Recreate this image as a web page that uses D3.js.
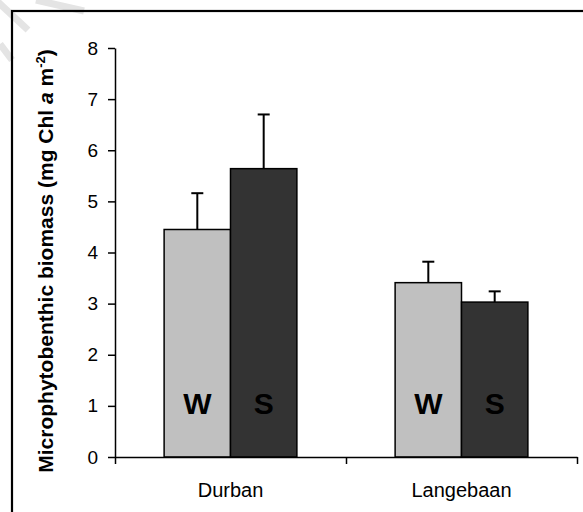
<!DOCTYPE html>
<html>
<head>
<meta charset="utf-8">
<script src="https://cdn.jsdelivr.net/npm/d3@7"></script>
<style>
  html, body { margin: 0; padding: 0; background: #fff; }
  svg { display: block; font-family: Arial, "Liberation Sans", Helvetica, sans-serif; }
</style>
</head>
<body>
<svg id="chart" width="583" height="512"></svg>
<script>
// ---- data ----
const sites = ["Durban", "Langebaan"];
const seasons = ["W", "S"];
const means = [[4.45, 5.64], [3.41, 3.03]];   // [site][season]
const errors = [[0.71, 1.06], [0.41, 0.21]];
const yTicks = [0, 1, 2, 3, 4, 5, 6, 7, 8];
const seasonColors = ["#c0c0c0", "#333333"];

const svg = d3.select("#chart");
svg.append("rect").attr("width", 583).attr("height", 512).attr("fill", "#fff");

// faint watermark stripes (top-left)
const wm = svg.append("g").attr("stroke", "#e4e4e4").attr("stroke-width", 7).attr("stroke-linecap", "butt");
wm.append("line").attr("x1", -2).attr("y1", 2).attr("x2", 28).attr("y2", 30);
wm.append("line").attr("x1", 36).attr("y1", 0).attr("x2", 84).attr("y2", 11);
wm.append("line").attr("x1", 0).attr("y1", 44).attr("x2", 12).attr("y2", 60);

// frame
svg.append("rect").attr("x", 12).attr("y", 11).attr("width", 620).attr("height", 620)
  .attr("fill", "none").attr("stroke", "#000").attr("stroke-width", 2.2);

const x0 = 115, x1 = 577, yBase = 457, yTop = 48;
const y = d3.scaleLinear().domain([0, 8]).range([yBase, yTop]);
const x = d3.scaleBand().domain(sites).range([x0, x1]).paddingInner(0).paddingOuter(0);
const xs = d3.scaleBand().domain(seasons).range([0, x.bandwidth()]).paddingInner(0).paddingOuter(0.74);

// bars
const groups = svg.append("g").selectAll("g").data(sites).join("g")
  .attr("transform", d => `translate(${x(d)},0)`);

groups.each(function(site, i) {
  const g = d3.select(this);
  seasons.forEach((s, j) => {
    const v = means[i][j], e = errors[i][j];
    const cx = xs(s) + xs.bandwidth() / 2;
    // error bar
    g.append("line").attr("x1", cx).attr("x2", cx).attr("y1", y(v)).attr("y2", y(v + e))
      .attr("stroke", "#000").attr("stroke-width", 2);
    g.append("line").attr("x1", cx - 6).attr("x2", cx + 6).attr("y1", y(v + e)).attr("y2", y(v + e))
      .attr("stroke", "#000").attr("stroke-width", 2);
    g.append("rect").attr("x", xs(s)).attr("y", y(v)).attr("width", xs.bandwidth())
      .attr("height", y(0) - y(v)).attr("fill", seasonColors[j])
      .attr("stroke", "#000").attr("stroke-width", 1.5);
    g.append("text").attr("x", cx).attr("y", y(0) - 43).attr("text-anchor", "middle")
      .attr("font-size", 30).attr("font-weight", "bold").attr("fill", "#000").text(s);
  });
});

// y axis
const yAxis = svg.append("g").attr("transform", `translate(${x0},0)`)
  .call(d3.axisLeft(y).tickValues(yTicks).tickSize(7).tickSizeOuter(0).tickPadding(10));
yAxis.select(".domain").attr("stroke-width", 1.5);
yAxis.selectAll(".tick line").attr("stroke-width", 1.5);
yAxis.selectAll("text").attr("font-size", 19).attr("font-family", "Arial, 'Liberation Sans', sans-serif").attr("fill", "#000");

// x axis: boundary ticks
const xb = d3.scaleLinear().domain([0, sites.length]).range([x0, x1]);
const xAxis = svg.append("g").attr("transform", `translate(0,${yBase})`)
  .call(d3.axisBottom(xb).tickValues(d3.range(sites.length + 1)).tickSize(7).tickSizeOuter(0).tickFormat(""));
xAxis.select(".domain").attr("stroke-width", 1.5);
xAxis.selectAll(".tick line").attr("stroke-width", 1.5);

// category labels
svg.append("g").selectAll("text").data(sites).join("text")
  .attr("x", d => x(d) + x.bandwidth() / 2).attr("y", 497)
  .attr("text-anchor", "middle").attr("font-size", 20).attr("fill", "#000").text(d => d);

// y label
const yl = svg.append("text").attr("transform", "translate(53,261) rotate(-90)")
  .attr("text-anchor", "middle").attr("font-size", 21).attr("font-weight", "bold").attr("fill", "#000");
yl.append("tspan").text("Microphytobenthic biomass (mg Chl ");
yl.append("tspan").attr("font-style", "italic").text("a");
yl.append("tspan").text(" m");
yl.append("tspan").attr("font-size", 13).attr("dy", -8).text("-2");
yl.append("tspan").attr("dy", 8).text(")");
</script>
</body>
</html>
